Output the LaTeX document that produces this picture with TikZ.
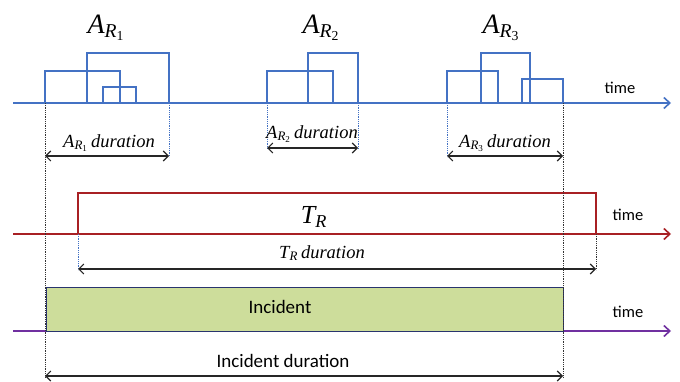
\documentclass[tikz,border=0pt]{standalone}
\usepackage{fontspec}
\setmainfont{Liberation Serif}
\setsansfont{Carlito}
\newfontfamily\timesfont{Liberation Serif}
\usetikzlibrary{positioning, arrows.meta}
\definecolor{pulseblue}{RGB}{68,114,196}
\definecolor{trred}{RGB}{168,32,36}
\definecolor{incpurple}{RGB}{112,48,160}
\definecolor{incgreen}{RGB}{205,221,155}
\definecolor{incnavy}{RGB}{40,52,110}
\tikzstyle{Pulse} = [line width=1.6pt, draw=pulseblue]
\tikzstyle{TimeAxis} = [line width=1.6pt, -{Straight Barb[length=6pt,width=11pt]}]
\tikzstyle{Dur} = [line width=1.1pt, black!85, {Straight Barb[length=5pt,width=10pt]}-{Straight Barb[length=5pt,width=10pt]}]
\tikzstyle{GuideBlack} = [densely dotted, line width=0.8pt, black!80]
\tikzstyle{GuideBlue} = [densely dotted, line width=0.8pt, pulseblue]
\tikzstyle{TimeLabel} = [font=\sffamily\fontsize{16.5}{19}\selectfont, inner sep=0pt]
\tikzstyle{DurLabel} = [font=\timesfont\itshape\fontsize{18.5}{22}\selectfont, inner sep=0pt]
\tikzstyle{BigLabel} = [font=\timesfont\itshape\fontsize{28}{32}\selectfont, inner sep=0pt]
\newcommand{\Asub}[1]{A\textsubscript{R\textsubscript{\upshape #1}}}

\begin{document}
\begin{tikzpicture}[x=1pt, y=-1pt]
    \useasboundingbox (0,0) rectangle (680,382);
    % time axes
    \coordinate (a1s) at (13,103);  \coordinate (a1e) at (671,103);
    \coordinate (a2s) at (13,234);  \coordinate (a2e) at (671,234);
    \coordinate (a3s) at (13,331);  \coordinate (a3e) at (671,331);
    \draw[TimeAxis, pulseblue] (a1s) -- (a1e);
    \draw[TimeAxis, trred] (a2s) -- (a2e);
    \draw[TimeAxis, incpurple] (a3s) -- (a3e);
    \node[TimeLabel] (time1) at (620,88) {time};
    \node[TimeLabel] (time2) at (628,215) {time};
    \node[TimeLabel] (time3) at (628,312) {time};

    % pulses of A_R1, A_R2, A_R3
    \draw[Pulse] (45,103) |- (120,71) -- (120,103);
    \draw[Pulse] (87,103) |- (169,53) -- (169,103);
    \draw[Pulse] (103,103) |- (136,87) -- (136,103);
    \draw[Pulse] (267,103) |- (333,71) -- (333,103);
    \draw[Pulse] (308,103) |- (358,53) -- (358,103);
    \draw[Pulse] (447,103) |- (498,71) -- (498,103);
    \draw[Pulse] (481,103) |- (530,53) -- (530,103);
    \draw[Pulse] (522,103) |- (563,79) -- (563,103);
    \node[BigLabel] (ar1) at (106,28) {\Asub{1}};
    \node[BigLabel] (ar2) at (321,28) {\Asub{2}};
    \node[BigLabel] (ar3) at (501,28) {\Asub{3}};

    % T_R pulse
    \draw[line width=1.6pt, trred] (78,234) |- (596,193) -- (596,234);
    \node[BigLabel, font=\timesfont\itshape\fontsize{26}{30}\selectfont] (tr) at (314,217) {T\textsubscript{R}};

    % incident
    \node[draw=incnavy, fill=incgreen, line width=1.2pt, anchor=north west,
          minimum width=517pt, minimum height=44pt, inner sep=0pt] (inc) at (46,287) {};
    \node[font=\sffamily\fontsize{19}{22}\selectfont] (inctext) at (280,307) {Incident};

    % guide lines
    \coordinate (g1t) at (45,103);   \coordinate (g1b) at (45,378);
    \coordinate (g2t) at (563,103);  \coordinate (g2b) at (563,378);
    \draw[GuideBlack] (g1t) -- (g1b);
    \draw[GuideBlack] (g2t) -- (g2b);
    \draw[GuideBlue] (169,103) -- (169,157);
    \draw[GuideBlue] (267,103) -- (267,149);
    \draw[GuideBlue] (358,103) -- (358,149);
    \draw[GuideBlue] (447,103) -- (447,157);
    \draw[GuideBlue] (78,234) -- (78,270);
    \draw[GuideBlack] (596,234) -- (596,270);

    % durations
    \coordinate (d1l) at (45,156);   \coordinate (d1r) at (169,156);
    \coordinate (d2l) at (267,148);  \coordinate (d2r) at (358,148);
    \coordinate (d3l) at (447,156);  \coordinate (d3r) at (563,156);
    \coordinate (dtl) at (78,269);   \coordinate (dtr) at (596,269);
    \coordinate (dil) at (45,376);   \coordinate (dir) at (563,376);
    \draw[Dur] (d1l) -- (d1r);
    \draw[Dur] (d2l) -- (d2r);
    \draw[Dur] (d3l) -- (d3r);
    \draw[Dur] (dtl) -- (dtr);
    \draw[Dur] (dil) -- (dir);
    \node[DurLabel] (dur1) at (109,143) {\Asub{1}\,duration};
    \node[DurLabel] (dur2) at (312,134) {\Asub{2}\,duration};
    \node[DurLabel] (dur3) at (505,143) {\Asub{3}\,duration};
    \node[DurLabel] (durtr) at (322,253) {T\textsubscript{R}\,duration};
    \node[font=\sffamily\fontsize{19}{22}\selectfont] (incdur) at (283,361) {Incident duration};
\end{tikzpicture}
\end{document}
